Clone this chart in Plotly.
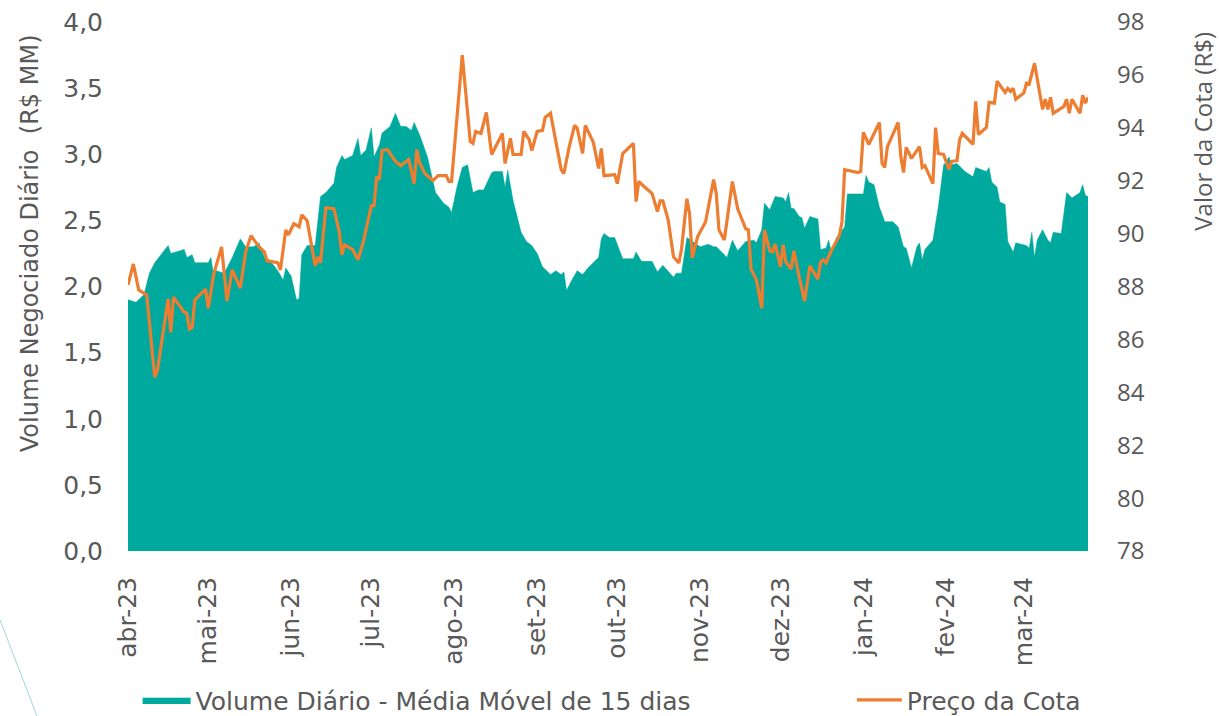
import pandas as pd
import plotly.graph_objects as go

# ---- data ----
start_date = "2023-04-01"

# Volume (15-day moving average), R$ MM; x = days since start_date
vol_day = [0, 3, 6, 8, 10, 15, 16, 21, 22, 24, 25, 30, 31, 32, 33, 36, 39, 42, 44, 47,
           49, 51, 53, 56, 58, 59, 61, 63, 64, 65, 67, 70, 72, 74, 77, 78, 80, 81, 84, 86,
           87, 89, 91, 92, 94, 95, 98, 100, 102, 104, 106, 107, 109, 112, 115, 118, 120, 121, 123, 125,
           127, 129, 131, 133, 136, 137, 140, 141, 142, 144, 147, 149, 151, 153, 155, 158, 160, 162, 163, 164,
           166, 168, 170, 172, 176, 177, 178, 180, 182, 185, 189, 190, 192, 196, 197, 198, 200, 204, 205, 207,
           209, 211, 214, 217, 219, 220, 224, 226, 228, 231, 234, 235, 237, 238, 240, 242, 245, 246, 247, 248,
           249, 251, 252, 253, 255, 258, 259, 261, 262, 263, 265, 268, 269, 275, 276, 277, 279, 281, 283, 286,
           288, 290, 291, 293, 295, 296, 297, 298, 301, 303, 305, 306, 307, 308, 310, 313, 316, 317, 321, 322,
           323, 325, 326, 328, 329, 331, 332, 336, 337, 338, 339, 340, 342, 344, 345, 346, 349, 351, 353, 356,
           357, 358, 359]
vol_val = [1.90, 1.88, 1.94, 2.10, 2.18, 2.31, 2.25, 2.28, 2.22, 2.24, 2.18, 2.18, 2.22, 2.09, 2.12, 2.10, 2.22, 2.36, 2.30, 2.30,
           2.33, 2.22, 2.20, 2.12, 2.05, 2.14, 2.08, 1.90, 1.91, 2.24, 2.31, 2.31, 2.68, 2.71, 2.78, 2.90, 2.99, 2.96, 2.99, 3.12,
           2.99, 3.03, 3.20, 2.98, 3.07, 3.16, 3.21, 3.31, 3.21, 3.21, 3.18, 3.24, 3.15, 2.98, 2.71, 2.63, 2.60, 2.56, 2.75, 2.90,
           2.92, 2.71, 2.73, 2.73, 2.86, 2.87, 2.87, 2.75, 2.88, 2.65, 2.41, 2.34, 2.31, 2.25, 2.15, 2.09, 2.12, 2.09, 2.11, 1.97,
           2.05, 2.12, 2.09, 2.14, 2.22, 2.36, 2.40, 2.37, 2.37, 2.21, 2.21, 2.26, 2.19, 2.19, 2.15, 2.11, 2.16, 2.07, 2.10, 2.10,
           2.37, 2.34, 2.30, 2.32, 2.30, 2.30, 2.22, 2.35, 2.27, 2.34, 2.35, 2.33, 2.43, 2.63, 2.58, 2.68, 2.67, 2.64, 2.71, 2.59,
           2.59, 2.53, 2.52, 2.44, 2.53, 2.51, 2.28, 2.29, 2.35, 2.26, 2.37, 2.45, 2.70, 2.70, 2.84, 2.79, 2.77, 2.60, 2.49, 2.49,
           2.45, 2.30, 2.29, 2.14, 2.30, 2.33, 2.20, 2.28, 2.35, 2.60, 2.92, 2.94, 2.98, 2.92, 2.93, 2.87, 2.83, 2.90, 2.87, 2.90,
           2.79, 2.75, 2.64, 2.62, 2.34, 2.26, 2.33, 2.31, 2.29, 2.41, 2.22, 2.35, 2.43, 2.35, 2.33, 2.41, 2.40, 2.71, 2.67, 2.71,
           2.77, 2.69, 2.68]

# Quota price, R$; x = days since start_date
price_day = [0, 2, 4, 7, 10, 11, 15, 16, 17, 21, 22, 23, 24, 25, 29, 30, 31, 32, 35, 37,
             39, 42, 44, 46, 49, 51, 52, 56, 57, 59, 60, 62, 64, 65, 67, 70, 71, 72, 74, 77,
             79, 80, 81, 84, 86, 88, 91, 92, 93, 94, 95, 97, 100, 102, 105, 107, 108, 109, 111, 114,
             116, 119, 120, 121, 125, 128, 129, 130, 132, 134, 136, 140, 141, 143, 144, 147, 148, 150, 151, 153,
             155, 156, 158, 162, 163, 165, 167, 168, 170, 171, 174, 176, 177, 178, 182, 183, 185, 189, 190, 191,
             193, 196, 198, 199, 200, 202, 204, 206, 207, 209, 210, 211, 213, 216, 219, 220, 221, 223, 226, 228,
             231, 232, 233, 235, 237, 238, 240, 241, 242, 244, 245, 246, 248, 249, 251, 253, 255, 258, 259, 260,
             261, 263, 266, 267, 268, 273, 274, 275, 277, 281, 282, 283, 284, 288, 289, 290, 291, 293, 296, 297,
             298, 301, 302, 303, 305, 307, 308, 310, 311, 312, 316, 317, 318, 321, 322, 324, 325, 328, 329, 330,
             331, 332, 335, 336, 337, 339, 342, 343, 344, 345, 346, 350, 351, 352, 353, 356, 357, 358, 359]
price_val = [88.06, 88.85, 87.87, 87.68, 84.57, 84.83, 87.53, 86.27, 87.60, 87.03, 86.99, 86.39, 86.46, 87.49, 87.90, 87.18, 87.79, 88.44, 89.50, 87.45,
             88.63, 87.94, 89.31, 89.92, 89.50, 89.31, 88.97, 88.90, 88.63, 90.14, 89.95, 90.37, 90.26, 90.71, 90.49, 88.78, 89.12, 88.89, 90.98, 90.94,
             90.07, 89.20, 89.58, 89.39, 89.01, 89.69, 91.06, 91.06, 92.16, 92.04, 93.14, 93.18, 92.73, 92.57, 92.80, 91.89, 93.18, 92.69, 92.27, 92.00,
             92.19, 92.19, 91.97, 91.97, 96.75, 93.48, 93.41, 93.86, 93.79, 94.58, 92.99, 93.79, 92.65, 93.60, 92.99, 92.99, 93.86, 93.56, 93.14, 93.86,
             93.90, 94.39, 94.55, 92.42, 92.27, 93.29, 94.09, 93.98, 93.03, 94.09, 93.45, 92.46, 93.22, 92.19, 92.23, 91.89, 93.03, 93.41, 91.21, 91.97,
             91.78, 91.51, 90.83, 91.24, 91.24, 90.52, 89.12, 88.89, 89.42, 91.32, 90.75, 89.08, 89.88, 90.45, 92.04, 91.51, 90.14, 89.76, 91.97, 90.94,
             90.18, 90.14, 88.66, 88.25, 87.18, 90.14, 89.35, 89.31, 89.61, 88.74, 89.58, 88.93, 88.66, 89.35, 88.36, 87.45, 88.78, 88.28, 88.93, 89.01,
             88.89, 89.35, 89.92, 90.45, 92.42, 92.31, 92.35, 93.83, 93.37, 94.20, 92.65, 92.50, 93.29, 94.20, 92.92, 92.31, 93.26, 92.84, 93.29, 92.50,
             92.57, 91.89, 94.01, 93.03, 92.99, 92.42, 92.73, 92.76, 93.56, 93.79, 93.37, 95.00, 93.75, 94.01, 94.96, 94.93, 95.76, 95.34, 95.49, 95.38,
             95.49, 95.08, 95.31, 95.69, 95.65, 96.44, 94.70, 95.08, 94.70, 95.15, 94.55, 94.81, 95.08, 94.55, 95.08, 94.55, 95.23, 94.93, 95.15]

month_ticks = pd.date_range("2023-04-01", "2024-03-01", freq="MS")
month_labels = ["abr-23", "mai-23", "jun-23", "jul-23", "ago-23", "set-23",
                "out-23", "nov-23", "dez-23", "jan-24", "fev-24", "mar-24"]

vol_dates = pd.Timestamp(start_date) + pd.to_timedelta(vol_day, unit="D")
price_dates = pd.Timestamp(start_date) + pd.to_timedelta(price_day, unit="D")

TEAL = "#00A99D"
ORANGE = "#ED7D31"
GREY = "#595959"
FONT_V = "DejaVu Sans"
FONT_S = "Open Sans"

fig = go.Figure()
fig.add_trace(go.Scatter(
    x=vol_dates, y=vol_val, name="Volume Diário - Média Móvel de 15 dias",
    mode="lines", fill="tozeroy", fillcolor=TEAL, line=dict(color=TEAL, width=0.5),
    yaxis="y", legend="legend"))
fig.add_trace(go.Scatter(
    x=price_dates, y=price_val, name="Preço da Cota",
    mode="lines", line=dict(color=ORANGE, width=3.2), yaxis="y2", legend="legend2"))

fig.update_layout(
    width=1219, height=716,
    margin=dict(l=128, r=131, t=22, b=165, autoexpand=False),
    paper_bgcolor="white", plot_bgcolor="white",
    font=dict(family=FONT_V, color=GREY, size=25),
    showlegend=True,
    xaxis=dict(
        type="date", range=[pd.Timestamp(start_date), pd.Timestamp(start_date) + pd.Timedelta(days=359)],
        tickvals=month_ticks, ticktext=month_labels, tickangle=-90,
        tickfont=dict(family=FONT_V, size=25, color=GREY),
        showgrid=False, zeroline=False, showline=False, ticks="", ticklabelstandoff=20,
        automargin=False),
    yaxis=dict(
        range=[0, 4], tickvals=[0, 0.5, 1, 1.5, 2, 2.5, 3, 3.5, 4],
        ticktext=["0,0", "0,5", "1,0", "1,5", "2,0", "2,5", "3,0", "3,5", "4,0"],
        tickfont=dict(family=FONT_V, size=25, color=GREY),
        showgrid=False, zeroline=False, showline=False, ticks="", ticklabelstandoff=24,
        automargin=False),
    yaxis2=dict(
        range=[78, 98], dtick=2, overlaying="y", side="right",
        tickfont=dict(family=FONT_S, size=24, color=GREY),
        showgrid=False, zeroline=False, showline=False, ticks="", ticklabelstandoff=28,
        automargin=False),
    legend=dict(orientation="h", x=0.01, y=-0.282, xanchor="left", yanchor="middle",
                font=dict(family=FONT_V, size=25, color=GREY), itemwidth=48,
                bgcolor="rgba(0,0,0,0)"),
    legend2=dict(orientation="h", x=0.754, y=-0.282, xanchor="left", yanchor="middle",
                 font=dict(family=FONT_V, size=25, color=GREY), itemwidth=45,
                 bgcolor="rgba(0,0,0,0)"),
    annotations=[
        dict(text="Volume Negociado Diário  (R$ MM)", textangle=-90, showarrow=False,
             xref="paper", yref="paper", x=-0.102, y=0.582, xanchor="center", yanchor="middle",
             font=dict(family=FONT_V, size=24, color=GREY)),
        dict(text="Valor da Cota (R$)", textangle=-90, showarrow=False,
             xref="paper", yref="paper", x=1.119, y=0.793, xanchor="center", yanchor="middle",
             font=dict(family=FONT_S, size=24, color=GREY)),
    ],
    shapes=[dict(type="line", xref="paper", yref="paper", x0=-0.1333, y0=-0.1304,
                 x1=-0.0948, y1=-0.3119, line=dict(color="#9ED8D3", width=1))],
)

fig.write_html("out.html", config={"displayModeBar": False},
               post_script="document.body.style.margin='0';document.body.style.overflow='hidden';")
